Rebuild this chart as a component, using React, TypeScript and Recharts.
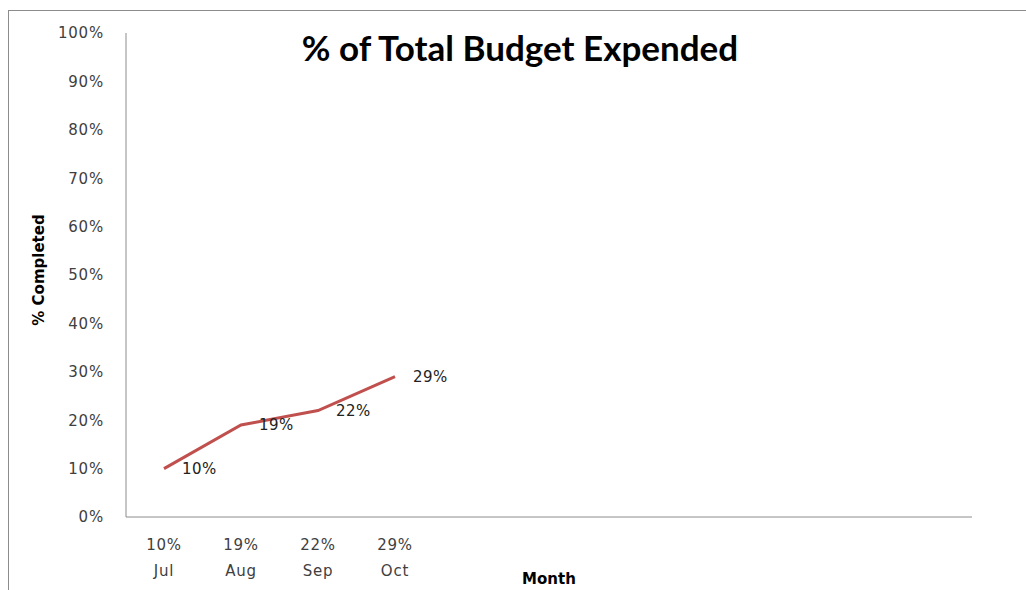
import React from 'react';
import { LineChart, Line, XAxis, YAxis, LabelList } from 'recharts';

// fiscal months on the category axis; only the first four carry data and a label
const months = ['Jul', 'Aug', 'Sep', 'Oct', '', '', '', '', '', '', ''];
const expended: (number | null)[] = [10, 19, 22, 29, null, null, null, null, null, null, null];
const yTicks = [0, 10, 20, 30, 40, 50, 60, 70, 80, 90, 100];

const chartTitle = '% of Total Budget Expended';
const yTitle = '% Completed';
const xTitle = 'Month';

const data = months.map((m, i) => ({ slot: i, month: m, value: expended[i] }));

const W = 1017;
const H = 579;
const tickFont = 'DejaVu Sans, sans-serif';
const boldFont = 'DejaVu Sans, sans-serif';

const MonthTick = (props: any) => {
  const { x, y, payload } = props;
  const i = payload.value as number;
  const v = expended[i];
  if (v == null || !months[i]) return null;
  return (
    <text textAnchor="middle" fontFamily={tickFont} fontSize={15} letterSpacing={0.8} fill="#404040">
      <tspan x={x} y={y + 33}>{`${v}%`}</tspan>
      <tspan x={x} y={y + 59}>{months[i]}</tspan>
    </text>
  );
};

const App: React.FC = () => {
  return (
    <div
      style={{
        position: 'fixed',
        left: 8,
        top: 10,
        width: 1018,
        height: 580,
        borderTop: '1px solid #8c8c8c',
        borderLeft: '1px solid #8c8c8c',
        boxSizing: 'border-box',
        overflow: 'hidden',
        background: '#fff',
      }}
    >
      <div style={{ position: 'relative', width: W, height: H }}>
        <LineChart width={W} height={H} data={data} margin={{ top: 22, right: 54, bottom: 0, left: 0 }}>
          <XAxis
            dataKey="slot"
            type="category"
            height={73}
            interval={0}
            padding={{ left: 38, right: 38 }}
            tickLine={false}
            tickSize={0}
            tickMargin={0}
            stroke="#8c8c8c"
            tick={<MonthTick />}
          />
          <YAxis
            domain={[0, 100]}
            ticks={yTicks}
            width={117}
            tickLine={false}
            tickSize={0}
            tickMargin={22}
            stroke="#8c8c8c"
            tickFormatter={(v: number) => `${v}%`}
            tick={{ fontFamily: tickFont, fontSize: 15, letterSpacing: 0.8, fill: '#404040' }}
          />
          <Line
            dataKey="value"
            stroke="#c0504d"
            strokeWidth={3}
            dot={false}
            activeDot={false}
            isAnimationActive={false}
          >
            <LabelList
              dataKey="value"
              position="right"
              offset={18}
              formatter={(v: any) => (v == null ? '' : `${v}%`)}
              fontFamily={tickFont}
              fontSize={15}
              letterSpacing={0.5}
              fill="#222"
            />
          </Line>
        </LineChart>
        <svg width={W} height={H} style={{ position: 'absolute', left: 0, top: 0, pointerEvents: 'none' }}>
          <text x={511} y={50} textAnchor="middle" fontFamily="Lato, sans-serif" fontWeight="bold" fontSize={35} fill="#000">
            {chartTitle}
          </text>
          <text
            transform="translate(35,259) rotate(-90)"
            textAnchor="middle"
            fontFamily={boldFont}
            fontWeight="bold"
            fontSize={15}
            fill="#000"
          >
            {yTitle}
          </text>
          <text x={540} y={573} textAnchor="middle" fontFamily={boldFont} fontWeight="bold" fontSize={15} fill="#000">
            {xTitle}
          </text>
        </svg>
      </div>
    </div>
  );
};

export default App;
